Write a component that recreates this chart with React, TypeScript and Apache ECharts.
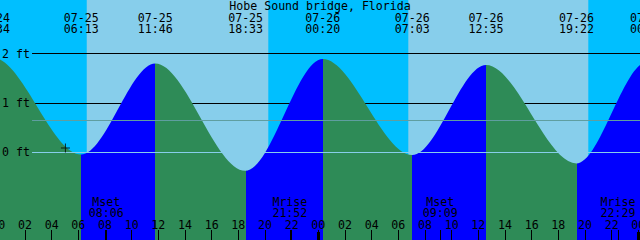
import React, { useEffect, useRef } from 'react';
import * as echarts from 'echarts';

const chartTitle = 'Hobe Sound bridge, Florida';

// Tide extremes (first and last entries are off-chart anchors for the curve ends)
const tideDates = ['07-24', '07-24', '07-25', '07-25', '07-25', '07-26', '07-26', '07-26', '07-26', '07-27', '07-27'];
const tideTimes = ['17:40', '23:34', '06:13', '11:46', '18:33', '00:20', '07:03', '12:35', '19:22', '00:41', '07:50'];
const tideHeights = [-0.3, 1.92, -0.04, 1.8, -0.37, 1.89, -0.05, 1.77, -0.22, 1.83, -0.08];

// Moon events
const moonNames = ['Mset', 'Mrise', 'Mset', 'Mrise'];
const moonDates = ['07-25', '07-25', '07-26', '07-26'];
const moonTimes = ['08:06', '21:52', '09:09', '22:29'];

// Daylight periods (sunrise -> sunset)
const sunriseDates = ['07-25', '07-26'];
const sunriseTimes = ['06:38', '06:45'];
const sunsetDates = ['07-25', '07-26'];
const sunsetTimes = ['20:15', '20:15'];

// Current-time marker
const nowDate = '07-25';
const nowTime = '05:02';
const nowLevel = 0.09;

// Axis ticks / labels
const hourTicks = [0, 2, 4, 6, 8, 10, 12, 14, 16, 18, 20, 22, 24, 26, 28, 30, 32, 34, 36, 38, 40, 42, 44, 46, 48];
const dayTicks = [0, 24, 48];
const levelTicks = [0, 1, 2];
const depthLines = [1, 2];
const datumLevel = 0;
const meanLevel = 0.65;

// View window
const xMin = -0.6225;
const xMax = 48.8775;
const yMin = -1.768;
const yMax = 3.081;
const lineStartHour = 2.53;

const FONT = 'DejaVu Sans Mono';
const FS = 11.6;
const LH = 11;
const SKY_NIGHT = '#00BFFF';
const SKY_DAY = '#87CEEB';
const FLOOD = '#0000FF';
const EBB = '#2E8B57';
const MEAN_COLOR = '#5F9EA0';
const DATUM_COLOR = '#87CEEB';

function toHours(date: string, time: string): number {
  const day = parseInt(date.slice(3), 10);
  const [hh, mm] = time.split(':').map((s) => parseInt(s, 10));
  return (day - 25) * 24 + hh + mm / 60;
}

const tideHours = tideDates.map((d, i) => toHours(d, tideTimes[i]));
const moonHours = moonDates.map((d, i) => toHours(d, moonTimes[i]));
const sunriseHours = sunriseDates.map((d, i) => toHours(d, sunriseTimes[i]));
const sunsetHours = sunsetDates.map((d, i) => toHours(d, sunsetTimes[i]));
const nowHour = toHours(nowDate, nowTime);

function findIdx(arr: number[], v: number): number {
  for (let i = 0; i < arr.length; i++) if (Math.abs(arr[i] - v) < 1e-6) return i;
  return -1;
}

export default function App() {
  const ref = useRef<HTMLDivElement>(null);
  useEffect(() => {
    if (!ref.current) return;
    const chart = echarts.init(ref.current, undefined, { renderer: 'svg' });
    const tideData = tideHours.map((h, i) => [h, tideHeights[i]]);
    const pieces: any[] = [];
    for (let i = 0; i < tideHours.length - 1; i++) {
      pieces.push({
        gte: tideHours[i],
        lt: tideHours[i + 1],
        color: tideHeights[i + 1] > tideHeights[i] ? FLOOD : EBB,
      });
    }
    const tickValues = [...hourTicks, ...moonHours].sort((a, b) => a - b);
    const baseX = {
      type: 'value',
      min: xMin,
      max: xMax,
      z: 20,
      axisLine: { show: false, onZero: false },
      splitLine: { show: false },
    };
    const labelStyle = { color: '#000', fontFamily: FONT, fontSize: FS };
    const option: any = {
      animation: false,
      backgroundColor: SKY_NIGHT,
      textStyle: { fontFamily: FONT, fontSize: FS, color: '#000' },
      title: {
        text: chartTitle,
        left: 'center',
        top: 0,
        padding: 0,
        z: 20,
        textStyle: { fontFamily: FONT, fontSize: FS, fontWeight: 'normal', color: '#000' },
      },
      grid: { left: -10, right: -10, top: 0, bottom: 0, containLabel: false, outerBoundsMode: 'none' },
      xAxis: [
        {
          ...baseX,
          position: 'bottom',
          axisTick: { show: true, inside: true, length: 10, customValues: tickValues, lineStyle: { color: '#000', width: 1 } },
          axisLabel: {
            ...labelStyle,
            show: true,
            inside: true,
            margin: 9,
            customValues: hourTicks,
            formatter: (v: number) => String(Math.round(v) % 24).padStart(2, '0'),
          },
        },
        {
          ...baseX,
          position: 'bottom',
          axisTick: { show: true, inside: true, length: 8, customValues: dayTicks, lineStyle: { color: '#000', width: 3 } },
          axisLabel: { show: false },
        },
        {
          ...baseX,
          position: 'bottom',
          axisTick: { show: false },
          axisLabel: {
            ...labelStyle,
            show: true,
            inside: true,
            margin: 22,
            lineHeight: LH,
            customValues: moonHours,
            formatter: (v: number) => {
              const i = findIdx(moonHours, v);
              return i < 0 ? '' : moonNames[i] + '\n' + moonTimes[i];
            },
          },
        },
        {
          ...baseX,
          position: 'top',
          axisTick: { show: false },
          axisLabel: {
            ...labelStyle,
            show: true,
            inside: true,
            margin: 12,
            lineHeight: LH,
            customValues: tideHours,
            formatter: (v: number) => {
              const i = findIdx(tideHours, v);
              return i < 0 ? '' : tideDates[i] + '\n' + tideTimes[i];
            },
          },
        },
      ],
      yAxis: {
        type: 'value',
        min: yMin,
        max: yMax,
        z: 20,
        axisLine: { show: false, onZero: false },
        axisTick: { show: false },
        splitLine: { show: false },
        axisLabel: {
          ...labelStyle,
          show: true,
          inside: true,
          margin: 12,
          customValues: levelTicks,
          formatter: (v: number) => `${v} ft`,
        },
      },
      visualMap: {
        type: 'piecewise',
        show: false,
        dimension: 0,
        seriesIndex: 1,
        pieces,
        outOfRange: { color: EBB },
      },
      series: [
        {
          type: 'line',
          data: tideData,
          showSymbol: false,
          silent: true,
          z: 1,
          lineStyle: { opacity: 0, width: 0 },
          markArea: {
            silent: true,
            z: 1,
            itemStyle: { color: SKY_DAY, opacity: 1, borderWidth: 0 },
            data: sunriseHours.map((h, i) => [{ xAxis: h }, { xAxis: sunsetHours[i] }]),
          },
          markLine: {
            silent: true,
            z: 2,
            symbol: ['none', 'none'],
            label: { show: false },
            lineStyle: { type: 'solid', color: '#000', width: 1 },
            data: depthLines.map((lv) => [
              { coord: [lineStartHour, lv] },
              { coord: [xMax, lv] },
            ]),
          },
        },
        {
          type: 'line',
          data: tideData,
          smooth: 0.333,
          smoothMonotone: 'x',
          showSymbol: false,
          silent: true,
          z: 3,
          lineStyle: { width: 0 },
          areaStyle: { origin: 'start', opacity: 1 },
          markLine: {
            silent: true,
            z: 4,
            symbol: ['none', 'none'],
            label: { show: false },
            data: [
              [
                { coord: [lineStartHour, meanLevel], lineStyle: { type: 'solid', color: MEAN_COLOR, width: 1 } },
                { coord: [xMax, meanLevel] },
              ],
              [
                { coord: [lineStartHour, datumLevel], lineStyle: { type: 'solid', color: DATUM_COLOR, width: 1 } },
                { coord: [xMax, datumLevel] },
              ],
            ],
          },
        },
        {
          type: 'scatter',
          data: [[nowHour, nowLevel]],
          symbol: 'path://M4,0H5V4H9V5H5V9H4V5H0V4H4Z',
          symbolSize: 9,
          silent: true,
          z: 6,
          itemStyle: { color: '#000' },
        },
      ],
    };
    chart.setOption(option);
    return () => chart.dispose();
  }, []);
  return (
    <div
      ref={ref}
      style={{ position: 'fixed', left: 0, top: 0, width: 640, height: 240 }}
    />
  );
}
